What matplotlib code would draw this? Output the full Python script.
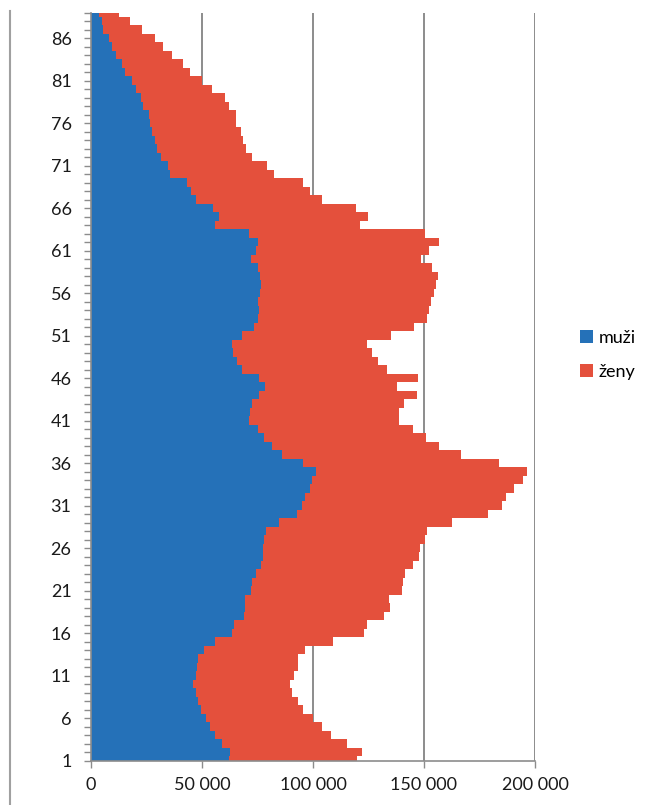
import matplotlib.pyplot as plt
import numpy as np
from matplotlib.lines import Line2D
from matplotlib.ticker import FuncFormatter

plt.rcParams['font.family'] = ['Lato', 'DejaVu Sans']

ages = list(range(1, 90))

# counts in thousands
muzi_k = [62.2, 62.6, 59.0, 55.9, 53.8, 51.8, 49.5, 48.3, 47.4, 46.1,
          47.1, 47.7, 48.3, 50.8, 55.9, 63.7, 64.6, 68.9, 69.4, 69.2,
          71.9, 72.4, 74.2, 76.6, 77.5, 77.6, 78.1, 78.8, 84.7, 92.9,
          95.2, 96.2, 98.8, 99.5, 101.2, 95.3, 86.2, 81.7, 78.1, 75.1,
          71.0, 71.6, 72.4, 75.7, 78.4, 75.7, 68.2, 65.9, 64.1, 63.7,
          67.9, 73.4, 75.1, 75.8, 75.1, 76.1, 76.4, 76.1, 75.1, 72.1,
          74.3, 75.1, 71.0, 55.9, 57.7, 55.1, 47.1, 45.0, 43.1, 35.7,
          34.7, 31.7, 29.7, 28.8, 27.6, 26.7, 26.0, 23.6, 22.5, 20.3,
          18.3, 15.5, 14.1, 11.3, 9.3, 8.1, 5.4, 4.8, 3.6]

zeny_k = [57.8, 59.6, 56.3, 52.1, 50.1, 48.2, 46.1, 45.1, 43.1, 43.7,
          44.3, 45.5, 44.9, 45.7, 53.0, 59.3, 59.6, 63.2, 65.1, 64.9,
          68.0, 68.1, 67.2, 68.6, 70.1, 70.4, 72.3, 72.5, 77.8, 86.1,
          89.8, 90.6, 91.9, 95.1, 95.2, 88.6, 80.5, 75.2, 72.8, 69.9,
          67.6, 67.0, 68.6, 71.1, 59.3, 71.7, 65.0, 63.5, 62.3, 60.8,
          67.1, 72.2, 76.4, 76.6, 77.9, 78.3, 79.2, 80.4, 78.4, 76.7,
          78.0, 81.8, 79.5, 65.4, 67.2, 64.4, 56.8, 53.8, 52.5, 46.6,
          44.4, 41.0, 40.3, 39.7, 40.0, 38.6, 39.3, 38.6, 37.9, 34.1,
          31.6, 29.2, 27.5, 25.2, 23.0, 20.6, 17.4, 12.9, 9.0]

muzi = np.array(muzi_k) * 1000
zeny = np.array(zeny_k) * 1000

blue = '#2571B8'
red = '#E4503C'
grey = '#8C8C8C'

fig = plt.figure(figsize=(6.51, 8.05), dpi=100)
ax = fig.add_axes([91 / 651, 1 - 760.7 / 805, 444 / 651, 748 / 805])

ax.barh(ages, muzi, height=1.0, color=blue, label='muži', zorder=2)
ax.barh(ages, zeny, left=muzi, height=1.0, color=red, label='ženy', zorder=2)

ax.set_xlim(0, 200000)
ax.set_ylim(1, 89)
ax.set_xticks([0, 50000, 100000, 150000, 200000])
ax.xaxis.set_major_formatter(FuncFormatter(lambda v, p: f"{int(v):,}".replace(",", " ")))
ax.set_yticks(ages)
ax.set_yticklabels([str(a) if (a - 1) % 5 == 0 else '' for a in ages])

ax.grid(axis='x', color=grey, linewidth=1.4, zorder=1)
for s in ['top', 'right']:
    ax.spines[s].set_visible(False)
for s in ['left', 'bottom']:
    ax.spines[s].set_color(grey)
    ax.spines[s].set_linewidth(1.2)
    ax.spines[s].set_zorder(3)

ax.tick_params(axis='y', length=5, width=1, color=grey, pad=9,
               labelsize=13, labelcolor='#1a1a1a')
ax.tick_params(axis='x', length=5, width=1, color=grey, pad=7,
               labelsize=13, labelcolor='#1a1a1a')

fig.legend(loc='center', bbox_to_anchor=(608 / 651, 1 - 355 / 805),
           frameon=False, fontsize=13, handlelength=0.7, handleheight=0.7,
           handletextpad=0.35, labelspacing=1.0)

# left border line of the chart area
fig.add_artist(Line2D([10 / 651, 10 / 651], [0, 1 - 11 / 805],
                      transform=fig.transFigure, color='#A0A0A0', linewidth=1.5))

fig.savefig('out.png', dpi=100)
